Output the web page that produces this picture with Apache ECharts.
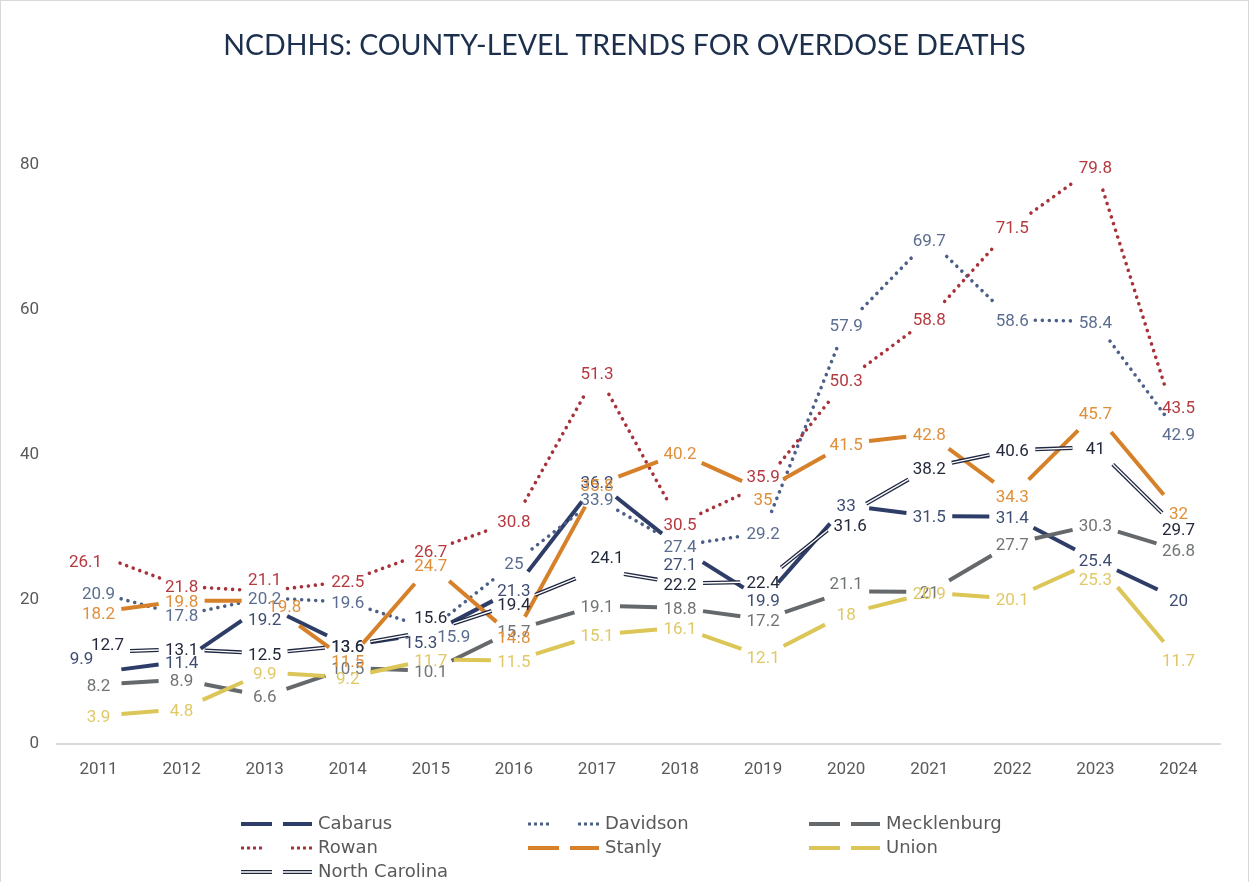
<!DOCTYPE html>
<html>
<head>
<meta charset="utf-8">
<title>NCDHHS: County-Level Trends for Overdose Deaths</title>
<script src="https://cdn.jsdelivr.net/npm/echarts@6/dist/echarts.min.js"></script>
<style>
  html, body { margin: 0; padding: 0; background: #ffffff; }
  #chart { width: 1247px; height: 881px; border: 1px solid #d9d9d9; border-bottom: none; }
</style>
</head>
<body>
<div id="chart"></div>
<script>
// Overdose death rates by county, 2011-2024
const years = ['2011', '2012', '2013', '2014', '2015', '2016', '2017', '2018', '2019', '2020', '2021', '2022', '2023', '2024'];
const yTicks = [0, 20, 40, 60, 80];

const cabarus     = [9.9, 11.4, 19.2, 13.6, 15.3, 21.3, 36.2, 27.1, 19.9, 33, 31.5, 31.4, 25.4, 20];
const davidson    = [20.9, 17.8, 20.2, 19.6, 15.9, 25, 33.9, 27.4, 29.2, 57.9, 69.7, 58.6, 58.4, 42.9];
const mecklenburg = [8.2, 8.9, 6.6, 10.5, 10.1, 15.7, 19.1, 18.8, 17.2, 21.1, 21, 27.7, 30.3, 26.8];
const rowan       = [26.1, 21.8, 21.1, 22.5, 26.7, 30.8, 51.3, 30.5, 35.9, 50.3, 58.8, 71.5, 79.8, 43.5];
const stanly      = [18.2, 19.8, 19.8, 11.5, 24.7, 14.8, 35.8, 40.2, 35, 41.5, 42.8, 34.3, 45.7, 32];
const union       = [3.9, 4.8, 9.9, 9.2, 11.7, 11.5, 15.1, 16.1, 12.1, 18, 20.9, 20.1, 25.3, 11.7];
const northCarolina = [12.7, 13.1, 12.5, 13.6, 15.6, 19.4, 24.1, 22.2, 22.4, 31.6, 38.2, 40.6, 41, 29.7];

// Styling for each series: line look and label colour
const styles = {
  'Cabarus':        { line: '#2e3d68', label: '#3f4d73', width: 4 },
  'Davidson':       { line: '#4b5f88', label: '#5b6d90', width: 3.6, dotted: true },
  'Mecklenburg':    { line: '#66696c', label: '#717476', width: 4 },
  'Rowan':          { line: '#a8323a', label: '#b5393f', width: 3.6, dotted: true },
  'Stanly':         { line: '#d6812a', label: '#e08f3a', width: 4 },
  'Union':          { line: '#dbc657', label: '#e0c866', width: 4 },
  'North Carolina': { line: '#1e2640', label: '#23293b', width: 4, double: true }
};

// Value labels nudged away from crowded spots (pixel shift, keyed by year index)
const labelNudge = {
  'Rowan':          { 0: [-13, 8], 2: [0, -11], 8: [0, -6], 13: [0, -20] },
  'North Carolina': { 0: [9, -6], 4: [0, -12], 6: [10, -11], 9: [4, 11] },
  'Cabarus':        { 0: [-17, -13], 2: [0, 16], 4: [-10, 10], 7: [0, 18] },
  'Davidson':       { 4: [23, 9] },
  'Stanly':         { 2: [20, 7], 8: [0, 10] },
  'Mecklenburg':    { 9: [0, -7] },
  'Union':          { 12: [0, 20] }
};
const DEFAULT_NUDGE = [0, 2];

const seriesList = [
  ['Cabarus', cabarus],
  ['Davidson', davidson],
  ['Mecklenburg', mecklenburg],
  ['Rowan', rowan],
  ['Stanly', stanly],
  ['Union', union],
  ['North Carolina', northCarolina]
];

// Radius kept clear around each point and its value label so the line breaks there
const GAP = 23;

function nudgeOf(name, idx) {
  const t = labelNudge[name];
  return (t && t[idx]) ? t[idx] : DEFAULT_NUDGE;
}

// Distance to move from point p along unit vector u until leaving the circle round label centre c
function clearance(p, u, c) {
  const wx = p[0] - c[0], wy = p[1] - c[1];
  const b = wx * u[0] + wy * u[1];
  const disc = b * b - (wx * wx + wy * wy) + GAP * GAP;
  if (disc <= 0) return GAP;
  return Math.max(GAP, -b + Math.sqrt(disc));
}

function renderer(name, values, st) {
  return function (params, api) {
    const idx = params.dataIndex;
    const v = values[idx];
    const p = api.coord([idx, v]);
    const n0 = nudgeOf(name, idx);
    const lc = [p[0] + n0[0], p[1] + n0[1]];
    const children = [];
    if (idx + 1 < values.length) {
      const q = api.coord([idx + 1, values[idx + 1]]);
      const n1 = nudgeOf(name, idx + 1);
      const qc = [q[0] + n1[0], q[1] + n1[1]];
      const dx = q[0] - p[0], dy = q[1] - p[1];
      const len = Math.hypot(dx, dy);
      const u = [dx / len, dy / len];
      const t0 = clearance(p, u, lc);
      const t1 = clearance(q, [-u[0], -u[1]], qc);
      if (len - t0 - t1 > 2) {
        const shape = { x1: p[0] + u[0] * t0, y1: p[1] + u[1] * t0, x2: q[0] - u[0] * t1, y2: q[1] - u[1] * t1 };
        children.push({
          type: 'line', shape: shape, z2: 1,
          style: st.dotted
            ? { stroke: st.line, lineWidth: st.width, lineDash: [0.01, 7], lineCap: 'round' }
            : { stroke: st.line, lineWidth: st.width, lineCap: 'butt' }
        });
        if (st.double) {
          children.push({ type: 'line', shape: shape, z2: 2, style: { stroke: '#ffffff', lineWidth: 1.4 } });
        }
      }
    }
    children.push({
      type: 'text', x: lc[0], y: lc[1], z2: 100,
      style: {
        text: String(v), fill: st.label, font: '17px Roboto',
        align: 'center', verticalAlign: 'middle'
      }
    });
    return { type: 'group', children: children };
  };
}

const series = seriesList.map(function (s) {
  const name = s[0], values = s[1];
  return {
    name: name,
    type: 'custom',
    coordinateSystem: 'cartesian2d',
    data: values.map(function (v, i) { return [i, v]; }),
    encode: { x: 0, y: 1 },
    renderItem: renderer(name, values, styles[name]),
    itemStyle: { color: styles[name].line },
    silent: true
  };
});

// Legend icons: two line pieces, dotted pairs, and the hollow double line
const dashIcon = 'path://M0,0H31V4H0Z M42,0H71V4H42Z';
const dotIcon = 'path://M0,0h3v3h-3z M6,0h3v3h-3z M12,0h3v3h-3z M18,0h3v3h-3z M50,0h3v3h-3z M56,0h3v3h-3z M62,0h3v3h-3z M68,0h3v3h-3z';
const doubleIcon = 'path://M0,0H31V1.3H0Z M0,2.7H31V4H0Z M42,0H71V1.3H42Z M42,2.7H71V4H42Z';

function legendItem(name) {
  const st = styles[name];
  const icon = st.dotted ? dotIcon : (st.double ? doubleIcon : dashIcon);
  return { name: name, icon: icon, itemStyle: { color: st.line } };
}

function legendColumn(left, names) {
  return {
    orient: 'vertical', left: left, top: 814, height: 80, padding: 0, itemGap: 6,
    itemWidth: 71, itemHeight: 4,
    textStyle: { color: '#595959', fontSize: 18, lineHeight: 17, fontFamily: 'DejaVu Sans', padding: [0, 0, 0, 1] },
    data: names.map(legendItem)
  };
}

const chart = echarts.init(document.getElementById('chart'), null, { renderer: 'canvas' });
chart.setOption({
  animation: false,
  backgroundColor: '#ffffff',
  title: {
    text: 'NCDHHS: COUNTY-LEVEL TRENDS FOR OVERDOSE DEATHS',
    left: 'center', top: 25,
    textStyle: { color: '#1c2f4d', fontSize: 28.5, fontWeight: 'normal', fontFamily: 'Lato' }
  },
  grid: { left: 56, right: 28, top: 164, bottom: 138, containLabel: false },
  legend: [
    legendColumn(240, ['Cabarus', 'Rowan', 'North Carolina']),
    legendColumn(527, ['Davidson', 'Stanly']),
    legendColumn(808, ['Mecklenburg', 'Union'])
  ],
  xAxis: {
    type: 'category', data: years, boundaryGap: true,
    axisLine: { lineStyle: { color: '#d9d9d9', width: 2 } },
    axisTick: { show: false },
    axisLabel: { color: '#595959', fontSize: 17, fontFamily: 'Roboto', margin: 17 }
  },
  yAxis: {
    type: 'value', min: yTicks[0], max: yTicks[yTicks.length - 1], interval: 20,
    axisLine: { show: false }, axisTick: { show: false },
    splitLine: { show: false },
    axisLabel: { color: '#595959', fontSize: 17, fontFamily: 'Roboto', margin: 18 }
  },
  series: series
});
</script>
</body>
</html>
